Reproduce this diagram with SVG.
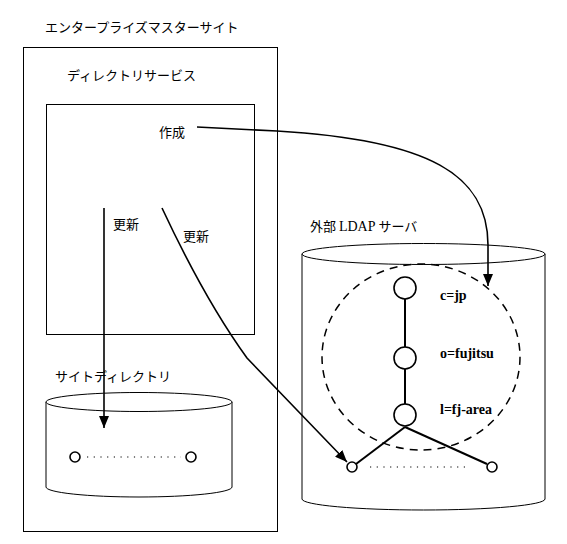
<svg xmlns="http://www.w3.org/2000/svg" width="567" height="544" viewBox="0 0 567 544">
<defs>
<marker id="ah" markerWidth="12" markerHeight="10" refX="12" refY="5" orient="auto" markerUnits="userSpaceOnUse">
<path d="M0,0 L12,5 L0,10 Z" fill="#000"/>
</marker>
<style>
.box{fill:none;stroke:#000;stroke-width:1}
.cyl{fill:#fff;stroke:#000;stroke-width:1}
.jp{font-family:"Noto Sans CJK JP","Noto Sans",sans-serif;font-size:13px;fill:#000}
.lat{font-family:"Liberation Serif",serif;font-size:14px}
.lb{font-family:"Liberation Serif",serif;font-size:14px;font-weight:bold;fill:#000}
.arr{fill:none;stroke:#000;stroke-width:1.6}
.tree{fill:none;stroke:#000;stroke-width:2}
.node{fill:#fff;stroke:#000;stroke-width:1.6}
.dot{fill:none;stroke:#000;stroke-width:1.2;stroke-dasharray:1.2 5.5}
</style>
</defs>
<rect width="567" height="544" fill="#fff"/>
<g id="master-site">
<rect class="box" x="23.5" y="47.5" width="254" height="484"/>
<text class="jp" x="45" y="32">エンタープライズマスターサイト</text>
</g>
<g id="directory-service">
<rect class="box" x="46.5" y="104.5" width="208" height="230"/>
<text class="jp" x="67" y="80">ディレクトリサービス</text>
</g>
<g id="site-directory">
<text class="jp" x="55" y="381">サイトディレクトリ</text>
<path class="cyl" d="M46,402 L46,487 A93,10 0 0 0 232,487 L232,402"/>
<ellipse class="cyl" cx="139" cy="402" rx="93" ry="9.5"/>
<circle class="node" cx="75" cy="457" r="5"/>
<circle class="node" cx="191" cy="457" r="5"/>
<line class="dot" x1="87" y1="457" x2="181" y2="457"/>
</g>
<g id="ldap-server">
<text class="jp" x="310" y="231">外部 <tspan class="lat">LDAP</tspan> サーバ</text>
<path class="cyl" d="M302,254 L302,499 A121.5,11 0 0 0 545,499 L545,254"/>
<ellipse class="cyl" cx="423.5" cy="254" rx="121.5" ry="10.5"/>
<ellipse cx="421" cy="357" rx="99" ry="93" fill="none" stroke="#000" stroke-width="1.5" stroke-dasharray="8 6"/>
</g>
<g id="tree-edges">
<line class="tree" x1="405" y1="299" x2="405" y2="347"/>
<line class="tree" x1="405" y1="369" x2="405" y2="404"/>
<line class="tree" x1="405" y1="427" x2="356" y2="464"/>
<line class="tree" x1="405" y1="427" x2="487" y2="464"/>
<line class="dot" x1="370" y1="467" x2="470" y2="467"/>
</g>
<g id="node-c-jp">
<circle class="node" cx="405" cy="288" r="11"/>
<text class="lb" x="440" y="300">c=jp</text>
</g>
<g id="node-o-fujitsu">
<circle class="node" cx="405" cy="358" r="11"/>
<text class="lb" x="440" y="358">o=fujitsu</text>
</g>
<g id="node-l-fj-area">
<circle class="node" cx="405" cy="415" r="11"/>
<text class="lb" x="440" y="414">l=fj-area</text>
</g>
<g id="leaf-left"><circle class="node" cx="352" cy="467" r="5"/></g>
<g id="leaf-right"><circle class="node" cx="492" cy="467" r="5"/></g>
<g id="connectors">
<path class="arr" d="M197,127 L277,131 C430,140 488,175 488,245 L488,286" marker-end="url(#ah)"/>
<text class="jp" x="159" y="137">作成</text>
<path class="arr" d="M104,208 L104,428" marker-end="url(#ah)"/>
<text class="jp" x="113" y="229">更新</text>
<path class="arr" d="M162,208 Q205,300 247,358 L347,462" marker-end="url(#ah)"/>
<text class="jp" x="183" y="241">更新</text>
</g>
</svg>
